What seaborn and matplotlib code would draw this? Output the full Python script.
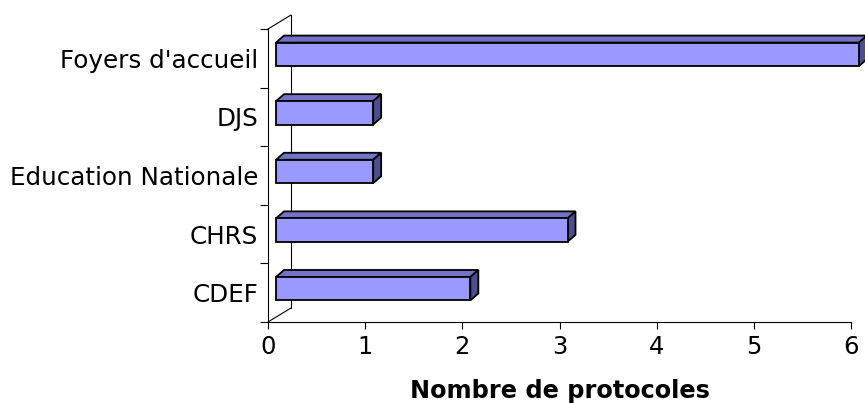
import numpy as np
import pandas as pd
import matplotlib
matplotlib.use("Agg")
import matplotlib.pyplot as plt
from matplotlib.patches import Polygon
from matplotlib.transforms import ScaledTranslation, IdentityTransform
import seaborn as sns

# donnees
categories = ["Foyers d'accueil", "DJS", "Education Nationale", "CHRS", "CDEF"]
valeurs = [6, 1, 1, 3, 2]
graduations = [0, 1, 2, 3, 4, 5, 6]

df = pd.DataFrame({'categorie': categories, 'protocoles': valeurs})

sns.set_theme(style='white')
plt.rcParams['font.family'] = ['DejaVu Sans']
plt.rcParams['text.color'] = 'black'
plt.rcParams['xtick.color'] = 'black'
plt.rcParams['ytick.color'] = 'black'
plt.rcParams['axes.labelcolor'] = 'black'

fig = plt.figure(figsize=(8.65, 4.03), dpi=100)
ax = fig.add_axes([268 / 865, 1 - 322 / 403, 583 / 865, 293 / 403])

face = '#9999FF'
dessus = '#7373C6'
cote = '#4D4D8F'

sns.barplot(data=df, x='protocoles', y='categorie', orient='h', color=face,
            edgecolor='black', linewidth=1.3, width=0.4, saturation=1, ax=ax)

ax.set_xlim(0, 6)
ax.set_ylim(len(categories) - 0.5, -0.5)

# decalage 3D (pixels)
dx_bar, dy_bar = 8, 4       # decalage de la face avant
prof_x, prof_y = 8, 7       # profondeur des barres
mur_x, mur_y = 23, 14       # profondeur du mur
pixels = IdentityTransform()

decal = ScaledTranslation(dx_bar / 100, dy_bar / 100, fig.dpi_scale_trans)
barres = list(ax.patches)
caches = []   # zones verticales cachees par les barres
for p in barres:
    p.set_transform(ax.transData + decal)
    p.set_zorder(4)
    p.set_clip_on(False)

# faces du dessus et de cote
for p in barres:
    x0, y0 = p.get_x(), p.get_y()
    w, h = p.get_width(), p.get_height()
    (px0, py_bas), (px1, py_haut) = ax.transData.transform([(x0, y0 + h), (x0 + w, y0)])
    px0 += dx_bar
    px1 += dx_bar
    py_bas += dy_bar
    py_haut += dy_bar
    top = Polygon([(px0, py_haut), (px1, py_haut), (px1 + prof_x, py_haut + prof_y),
                   (px0 + prof_x, py_haut + prof_y)], closed=True, transform=pixels,
                  facecolor=dessus, edgecolor='black', linewidth=1.3, zorder=3, clip_on=False)
    side = Polygon([(px1, py_bas), (px1, py_haut), (px1 + prof_x, py_haut + prof_y),
                    (px1 + prof_x, py_bas + prof_y)], closed=True, transform=pixels,
                   facecolor=cote, edgecolor='black', linewidth=1.3, zorder=3, clip_on=False)
    ax.add_artist(top)
    ax.add_artist(side)
    caches.append((py_bas, py_haut + prof_y))

# mur de gauche (la ligne du fond passe derriere les barres)
(gx, gy_bas), (_, gy_haut) = ax.transData.transform([(0, len(categories) - 0.5), (0, -0.5)])
segments = [[(gx, gy_haut), (gx + mur_x, gy_haut + mur_y)],
            [(gx, gy_bas), (gx + mur_x, gy_bas + mur_y)]]
debut = gy_bas + mur_y
for bas, haut in sorted(caches):
    if bas > debut:
        segments.append([(gx + mur_x, debut), (gx + mur_x, bas)])
    debut = max(debut, haut)
if debut < gy_haut + mur_y:
    segments.append([(gx + mur_x, debut), (gx + mur_x, gy_haut + mur_y)])

for seg in segments:
    ligne = plt.Line2D([seg[0][0], seg[1][0]], [seg[0][1], seg[1][1]], transform=pixels,
                       color='black', linewidth=0.8, zorder=1)
    fig.lines.append(ligne)

# axes
for s in ['top', 'right']:
    ax.spines[s].set_visible(False)
for s in ['left', 'bottom']:
    ax.spines[s].set_color('black')
    ax.spines[s].set_linewidth(0.8)

ax.set_xticks(graduations)
ax.set_xticklabels([str(g) for g in graduations], fontsize=17.5)
ax.set_yticks(range(len(categories)))
ax.set_yticklabels(categories, fontsize=17.7)
ax.set_yticks(np.arange(-0.5, len(categories), 1), minor=True)
ax.tick_params(axis='y', which='major', length=0, pad=7)
ax.tick_params(axis='y', which='minor', length=6, width=0.8, color='black', direction='out', left=True)
ax.tick_params(axis='x', length=5, width=0.8, color='black', direction='out', bottom=True, pad=4)
ax.set_xlabel('Nombre de protocoles', fontsize=17.3, fontweight='bold', labelpad=15)
ax.set_ylabel('')
ax.patch.set_alpha(0)

fig.savefig('out.png', dpi=100)
